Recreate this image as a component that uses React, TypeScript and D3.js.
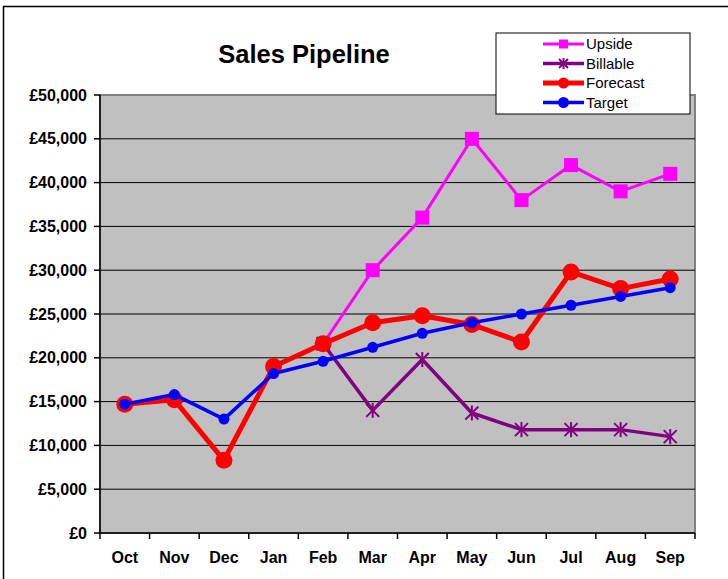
import * as d3 from 'd3';

const months = ['Oct', 'Nov', 'Dec', 'Jan', 'Feb', 'Mar', 'Apr', 'May', 'Jun', 'Jul', 'Aug', 'Sep'];
const upside = [null, null, null, null, 21600, 30000, 36000, 45000, 38000, 42000, 39000, 41000];
const billable = [null, null, null, null, 21600, 14000, 19800, 13700, 11800, 11800, 11800, 11000];
const forecast = [14700, 15200, 8300, 19000, 21600, 24000, 24800, 23800, 21800, 29800, 27900, 29000];
const target = [14700, 15800, 13000, 18200, 19600, 21200, 22800, 24000, 25000, 26000, 27000, 28000];
const yTicks = [0, 5000, 10000, 15000, 20000, 25000, 30000, 35000, 40000, 45000, 50000];

type Marker = 'square' | 'star' | 'circle';
type Series = {name: string; values: (number | null)[]; color: string; width: number; marker: Marker; size: number};

const series: Series[] = [
  {name: 'Upside', values: upside, color: '#FF00FF', width: 3, marker: 'square', size: 14},
  {name: 'Billable', values: billable, color: '#800080', width: 3.5, marker: 'star', size: 13},
  {name: 'Forecast', values: forecast, color: '#FF0000', width: 5, marker: 'circle', size: 8.5},
  {name: 'Target', values: target, color: '#0000FF', width: 3.5, marker: 'circle', size: 5.5},
];

const W = 728;
const H = 579;
const left = 100;
const right = 695;
const top = 95;
const bottom = 533;
const FONT = 'Arial, "Liberation Sans", sans-serif';

function drawMarker(m: Marker, x: number, y: number, size: number, color: string, key: string) {
  if (m === 'square') {
    return <rect key={key} x={x - size / 2} y={y - size / 2} width={size} height={size} fill={color} />;
  }
  if (m === 'circle') {
    return <circle key={key} cx={x} cy={y} r={size} fill={color} />;
  }
  const h = size / 2;
  return (
    <g key={key} stroke={color} strokeWidth={2}>
      <line x1={x - h} y1={y - h} x2={x + h} y2={y + h} />
      <line x1={x - h} y1={y + h} x2={x + h} y2={y - h} />
      <line x1={x} y1={y - h - 1} x2={x} y2={y + h + 1} />
    </g>
  );
}

export default function App() {
  const x = d3.scaleBand().domain(months).range([left, right]);
  const y = d3.scaleLinear().domain([0, 50000]).range([bottom, top]);
  const cx = (m: string) => (x(m) ?? 0) + x.bandwidth() / 2;
  const fmt = (v: number) => '£' + d3.format(',')(v);

  const line = d3
    .line<[string, number | null]>()
    .defined((d) => d[1] !== null)
    .x((d) => cx(d[0]))
    .y((d) => y(d[1] as number));

  return (
    <svg width={W} height={H} style={{position: 'absolute', left: 0, top: 0}} fontFamily={FONT}>
      <rect x={0} y={0} width={W} height={H} fill="#fff" />
      <rect x={3.5} y={6.5} width={W + 10} height={H + 10} fill="none" stroke="#000" strokeWidth={1.5} />

      <text x={304} y={63} textAnchor="middle" fontSize={25.5} fontWeight="bold">Sales Pipeline</text>

      <rect x={left} y={top} width={right - left} height={bottom - top} fill="#C0C0C0" stroke="#808080" strokeWidth={2} />
      {yTicks.slice(1, -1).map((t) => (
        <line key={t} x1={left} x2={right} y1={y(t)} y2={y(t)} stroke="#000" strokeWidth={1} />
      ))}

      <line x1={left} x2={left} y1={top} y2={bottom} stroke="#000" strokeWidth={1.5} />
      <line x1={left} x2={right} y1={bottom} y2={bottom} stroke="#000" strokeWidth={1.5} />
      {yTicks.map((t) => (
        <g key={t}>
          <line x1={left - 6} x2={left} y1={y(t)} y2={y(t)} stroke="#000" strokeWidth={1.5} />
          <text x={87} y={y(t) + 5.5} textAnchor="end" fontSize={16} fontWeight="bold">{fmt(t)}</text>
        </g>
      ))}
      {months.map((m) => (
        <g key={m}>
          <line x1={x(m) ?? 0} x2={x(m) ?? 0} y1={bottom} y2={bottom + 6} stroke="#000" strokeWidth={1.5} />
          <text x={cx(m)} y={563} textAnchor="middle" fontSize={16} fontWeight="bold">{m}</text>
        </g>
      ))}
      <line x1={right} x2={right} y1={bottom} y2={bottom + 6} stroke="#000" strokeWidth={1.5} />

      {series.map((s) => (
        <g key={s.name}>
          <path
            d={line(months.map((m, i) => [m, s.values[i]] as [string, number | null])) ?? ''}
            fill="none"
            stroke={s.color}
            strokeWidth={s.width}
            strokeLinejoin="round"
          />
          {months.map((m, i) =>
            s.values[i] === null ? null : drawMarker(s.marker, cx(m), y(s.values[i] as number), s.size, s.color, s.name + m),
          )}
        </g>
      ))}

      <rect x={496} y={33} width={194} height={81} fill="#fff" stroke="#000" strokeWidth={1} />
      {series.map((s, i) => {
        const ly = 44 + i * 19.5;
        return (
          <g key={s.name}>
            <line x1={543} x2={584} y1={ly} y2={ly} stroke={s.color} strokeWidth={s.width} />
            {drawMarker(s.marker, 563.5, ly, s.marker === 'circle' ? Math.min(s.size, 5.5) : 9, s.color, 'lg' + s.name)}
            <text x={586} y={ly + 5} fontSize={15}>{s.name}</text>
          </g>
        );
      })}
    </svg>
  );
}
